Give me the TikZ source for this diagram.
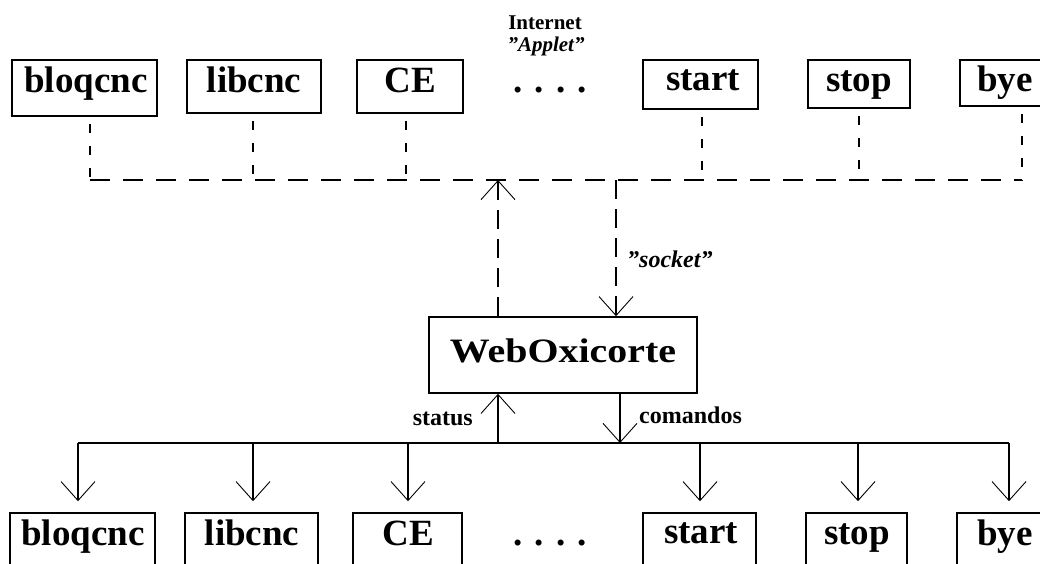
\documentclass[tikz,border=0pt]{standalone}
\usepackage{fontspec}
\setmainfont[Ligatures=NoCommon]{Liberation Serif}
\usetikzlibrary{arrows.meta}
\newcommand{\sq}{\symbol{34}}
\tikzset{
  box/.style={draw, line width=1.6pt, inner sep=0pt},
  big/.style={font=\fontsize{37}{40}\selectfont\bfseries, inner sep=0pt, anchor=base},
  lab/.style={font=\fontsize{24}{26}\selectfont\bfseries, inner sep=0pt},
  smlab/.style={font=\fontsize{21}{22}\selectfont\bfseries, inner sep=0pt},
  vdash/.style={line width=1.4pt, dash pattern=on 9pt off 13pt, shorten <=7pt},
  hdash/.style={line width=1.4pt, dash pattern=on 20pt off 13pt},
  mdash/.style={line width=1.4pt, dash pattern=on 19pt off 10pt},
  solid line/.style={line width=1.4pt},
  tip/.style={-{Straight Barb[length=19pt,width=34pt,line width=0.9pt]}}
}
\begin{document}
\begin{tikzpicture}[x=1pt,y=-1pt]
\useasboundingbox (0,0) rectangle (1040,563);
\clip (0,0) rectangle (1040,563);
% top boxes
\node[box, minimum width=145pt, minimum height=56pt] (t1) at (84.5,88) {};
\node[box, minimum width=134pt, minimum height=53pt] (t2) at (254,86.5) {};
\node[box, minimum width=106pt, minimum height=53pt] (t3) at (410,86.5) {};
\node[box, minimum width=115pt, minimum height=49pt] (t4) at (700.5,84.5) {};
\node[box, minimum width=102pt, minimum height=48pt] (t5) at (859,84) {};
\node[box, minimum width=124pt, minimum height=46pt] (t6) at (1022,83) {};
\node[big] (tt1) at (86,92) {bloqcnc};
\node[big] (tt2) at (254,92) {libcnc};
\node[big] (tt3) at (410,92) {CE};
\node[big] (tt0) at (550,92) {.\,\,.\,\,.\,\,.};
\node[big] (tt4) at (703,90) {start};
\node[big] (tt5) at (859,91) {stop};
\node[big] (tt6) at (1005,91) {bye};
\node[smlab, anchor=base] (inet) at (545,29) {Internet};
\node[smlab, anchor=base] (appl) at (546,51) {\itshape \sq Applet\sq};
% top bus
\coordinate (j1) at (90,180);
\coordinate (j2) at (253,180);
\coordinate (j3) at (406,180);
\coordinate (j4) at (702,180);
\coordinate (j5) at (859,180);
\coordinate (j6) at (1022,180);
\draw[hdash] (j1) -- (j6);
\foreach \i in {1,...,6} \draw[vdash] (t\i.south -| j\i) -- (j\i);
% central box
\node[box, minimum width=268pt, minimum height=76pt] (W) at (563,355) {};
\node[inner sep=0pt, anchor=base] (Wt) at (563,362) {\scalebox{1.05}[0.9]{\fontsize{38}{40}\selectfont\bfseries WebOxicorte}};
\coordinate (a1) at (498,180);
\coordinate (a2) at (616,180);
\draw[mdash, tip] (W.north -| a1) -- (a1);
\draw[mdash, tip] (a2) -- (W.north -| a2);
\node[lab, anchor=base west] (sock) at (627,267) {\itshape \sq socket\sq};
% bottom bus
\coordinate (k1) at (78,443);
\coordinate (k2) at (253,443);
\coordinate (k3) at (408,443);
\coordinate (k4) at (700,443);
\coordinate (k5) at (858,443);
\coordinate (k6) at (1009,443);
\coordinate (s) at (498,443);
\coordinate (c) at (620,443);
\draw[solid line] (k1) -- (k6);
\draw[solid line, tip] (s) -- (W.south -| s);
\draw[solid line, tip] (W.south -| c) -- (c);
\node[lab, anchor=base east] (stat) at (473,425) {status};
\node[lab, anchor=base west] (com) at (639,423) {comandos};
% bottom boxes
\node[box, minimum width=145pt, minimum height=60pt] (b1) at (82.5,543) {};
\node[box, minimum width=133pt, minimum height=60pt] (b2) at (251.5,543) {};
\node[box, minimum width=109pt, minimum height=60pt] (b3) at (407.5,543) {};
\node[box, minimum width=113pt, minimum height=60pt] (b4) at (699.5,543) {};
\node[box, minimum width=101pt, minimum height=60pt] (b5) at (856.5,543) {};
\node[box, minimum width=104pt, minimum height=60pt] (b6) at (1009,543) {};
\foreach \i in {1,...,6} \draw[solid line, tip, shorten >=11pt] (k\i) -- (b\i.north -| k\i);
\node[big] (bt1) at (83,545) {bloqcnc};
\node[big] (bt2) at (252,545) {libcnc};
\node[big] (bt3) at (408,545) {CE};
\node[big] (bt0) at (550,545) {.\,\,.\,\,.\,\,.};
\node[big] (bt4) at (701,543) {start};
\node[big] (bt5) at (857,544) {stop};
\node[big] (bt6) at (1005,545) {bye};
\end{tikzpicture}
\end{document}
